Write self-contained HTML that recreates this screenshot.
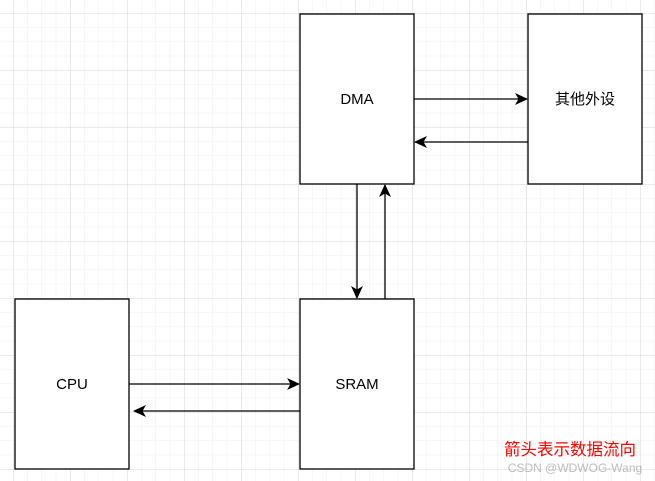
<!DOCTYPE html>
<html><head><style>body{margin:0;background:#fff}svg{display:block}</style></head><body>
<svg width="655" height="481" xmlns="http://www.w3.org/2000/svg" font-family="Liberation Sans, Noto Sans CJK SC, sans-serif">
<defs>
<pattern id="minor" x="13" y="13" width="14.25" height="14.25" patternUnits="userSpaceOnUse"><path d="M0 0H14.25M0 0V14.25" stroke="#efefef" stroke-width="1" fill="none"/></pattern>
<pattern id="major" x="13" y="13" width="57" height="57" patternUnits="userSpaceOnUse"><path d="M0 0H57M0 0V57" stroke="#d6d6d6" stroke-width="1" fill="none"/></pattern>
<marker id="a" markerWidth="13" markerHeight="12" refX="12" refY="6" orient="auto" markerUnits="userSpaceOnUse"><path d="M0 0L13 6L0 12L3.5 6Z" fill="#000"/></marker>
</defs>
<rect width="655" height="481" fill="url(#minor)"/>
<rect width="655" height="481" fill="url(#major)"/>
<g fill="#fff" stroke="#000" stroke-width="1.3">
<rect x="300" y="14" width="114" height="170"/>
<rect x="528" y="14" width="114" height="170"/>
<rect x="15" y="299" width="114" height="170"/>
<rect x="300" y="299" width="114" height="170"/>
</g>
<g stroke="#000" stroke-width="1.3" marker-end="url(#a)">
<line x1="414" y1="99" x2="527" y2="99"/>
<line x1="528" y1="142" x2="415" y2="142"/>
<line x1="357" y1="184" x2="357" y2="298"/>
<line x1="385" y1="299" x2="385" y2="185"/>
<line x1="129" y1="384" x2="299" y2="384"/>
<line x1="300" y1="411" x2="134" y2="411"/>
</g>
<g font-size="15" text-anchor="middle" fill="#000">
<text x="357" y="104">DMA</text>
<text x="585" y="104">其他外设</text>
<text x="72" y="389">CPU</text>
<text x="357" y="389">SRAM</text>
</g>
<text x="570" y="455" font-size="16.5" text-anchor="middle" fill="#f00">箭头表示数据流向</text>
<text x="575" y="472" font-size="12" text-anchor="middle" fill="#bbb">CSDN @WDWOG-Wang</text>
</svg>
</body></html>
